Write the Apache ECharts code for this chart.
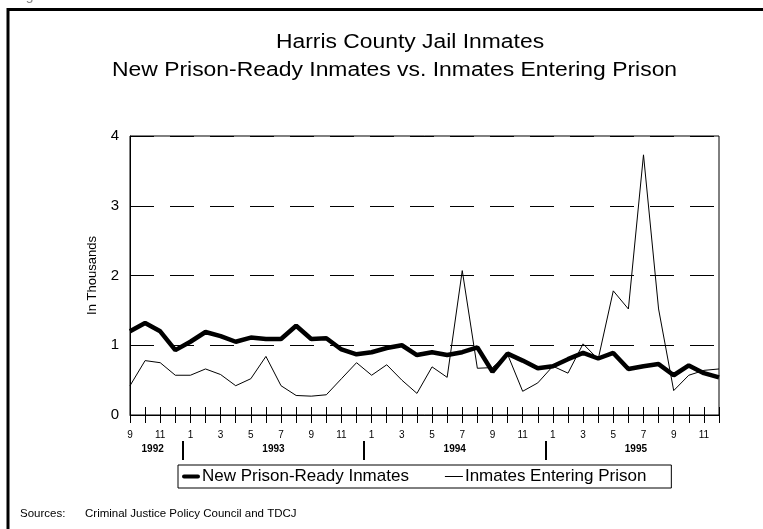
<!DOCTYPE html>
<html>
<head>
<meta charset="utf-8">
<script src="https://cdn.jsdelivr.net/npm/echarts@6/dist/echarts.min.js"></script>
<style>
html,body{margin:0;padding:0;background:#fff;}
#chart{width:763px;height:529px;}
</style>
</head>
<body>
<div id="chart"></div>
<script>
var monthLabels = ['9','10','11','12',
  '1','2','3','4','5','6','7','8','9','10','11','12',
  '1','2','3','4','5','6','7','8','9','10','11','12',
  '1','2','3','4','5','6','7','8','9','10','11','12'];
var monthYears = [1992,1992,1992,1992,
  1993,1993,1993,1993,1993,1993,1993,1993,1993,1993,1993,1993,
  1994,1994,1994,1994,1994,1994,1994,1994,1994,1994,1994,1994,
  1995,1995,1995,1995,1995,1995,1995,1995,1995,1995,1995,1995];
var yearLabels = ['1992','1993','1994','1995'];
var newPrisonReady = [1.20,1.32,1.20,0.93,
  1.05,1.19,1.13,1.05,1.11,1.09,1.09,1.28,1.09,1.10,0.94,0.87,
  0.90,0.96,1.00,0.86,0.90,0.86,0.90,0.97,0.62,0.88,0.78,0.67,
  0.70,0.80,0.89,0.81,0.89,0.66,0.70,0.73,0.57,0.71,0.60,0.54];
var enteringPrison = [0.42,0.78,0.75,0.57,
  0.57,0.66,0.58,0.42,0.52,0.84,0.42,0.28,0.27,0.29,0.52,0.75,
  0.57,0.72,0.50,0.31,0.69,0.54,2.07,0.67,0.68,0.87,0.34,0.46,
  0.70,0.60,1.02,0.80,1.78,1.52,3.73,1.52,0.35,0.57,0.64,0.66];
var yTicks = ['0','1','2','3','4'];
var titleLines = ['Harris County Jail Inmates', 'New Prison-Ready Inmates vs. Inmates Entering Prison'];
var seriesNames = ['New Prison-Ready Inmates', 'Inmates Entering Prison'];

// derived: year boundaries and year label centres (index units)
var categories = monthLabels.map(function(m, i){ return monthYears[i] + '-' + m; });
var sepValues = [];
for (var i = 1; i < monthYears.length; i++) {
  if (monthYears[i] !== monthYears[i-1]) sepValues.push(i - 0.5);
}
var yearCentres = yearLabels.map(function(y){
  var first = monthYears.indexOf(+y), last = monthYears.lastIndexOf(+y);
  return (first + last) / 2;
});

var FONT = '"Liberation Sans", Arial, Helvetica, sans-serif';
var chart = echarts.init(document.getElementById('chart'), null, {renderer:'canvas'});
chart.setOption({
  backgroundColor: '#fff',
  animation: false,
  textStyle: {fontFamily: FONT, color: '#000'},
  grid: {left: 130, right: 44, top: 136, bottom: 114, show: true,
         borderColor: '#000', borderWidth: 1, backgroundColor: 'transparent'},
  legend: {
    left: 178, top: 465,
    padding: [3, 25, 3, 4],
    borderColor: '#000', borderWidth: 1,
    itemWidth: 18, itemHeight: 14, itemGap: 36,
    textStyle: {fontFamily: FONT, fontSize: 17, color: '#000', padding: [0,0,0,-3]},
    data: [
      {name: seriesNames[0], icon: 'path://M2,0 L16,0 A2,2 0 0 1 16,4 L2,4 A2,2 0 0 1 2,0 Z'},
      {name: seriesNames[1], icon: 'path://M0,0 L18,0 L18,1 L0,1 Z'}
    ]
  },
  xAxis: [
    {type: 'category', data: categories, boundaryGap: false, position: 'bottom',
     axisLine: {show: true, lineStyle: {color: '#000', width: 1}},
     axisTick: {show: true, interval: 0, length: 8, lineStyle: {color: '#000'}},
     axisLabel: {show: true, interval: 1, margin: 15, fontSize: 10, color: '#000', fontFamily: FONT,
       formatter: function(v, idx){ return monthLabels[idx]; }},
     splitLine: {show: false}},
    {type: 'category', data: categories, boundaryGap: false, position: 'bottom',
     axisLine: {show: false},
     axisTick: {show: true, inside: true, interval: 0, length: 8, lineStyle: {color: '#000'}},
     axisLabel: {show: false}, splitLine: {show: false}},
    {type: 'value', min: 0, max: monthLabels.length - 1, position: 'bottom', offset: 26,
     axisLine: {show: false},
     axisTick: {show: true, length: 19, customValues: sepValues, lineStyle: {color: '#000', width: 2}},
     axisLabel: {show: true, margin: 3, customValues: yearCentres, fontSize: 10, fontWeight: 'bold',
       color: '#000', fontFamily: FONT, verticalAlign: 'top',
       formatter: function(v){
         var k = yearCentres.indexOf(v);
         return k >= 0 ? yearLabels[k] : '';
       }},
     splitLine: {show: false}}
  ],
  yAxis: {
    type: 'value', min: 0, max: yTicks.length - 1, interval: 1,
    name: 'In Thousands', nameLocation: 'middle', nameRotate: 90, nameGap: 31,
    nameTextStyle: {fontFamily: FONT, fontSize: 13, color: '#000'},
    axisLine: {show: true, lineStyle: {color: '#000', width: 1}},
    axisTick: {show: false},
    axisLabel: {fontSize: 15, color: '#000', margin: 11, fontFamily: FONT,
      formatter: function(v){ return yTicks[v]; }},
    splitLine: {show: true, lineStyle: {color: '#000', width: 1, type: [24, 16]}}
  },
  series: [
    {name: seriesNames[0], type: 'line', data: newPrisonReady,
     symbol: 'none', showSymbol: false, z: 3,
     lineStyle: {color: '#000', width: 4.5}, itemStyle: {color: '#000'}},
    {name: seriesNames[1], type: 'line', data: enteringPrison,
     symbol: 'none', showSymbol: false, z: 2,
     lineStyle: {color: '#000', width: 1}, itemStyle: {color: '#000'}}
  ],
  graphic: [
    {type: 'text', x: 14, y: 3,
     style: {text: 'Figure', font: '14px ' + FONT, fill: '#888', verticalAlign: 'bottom'}},
    {type: 'rect', shape: {x: 8, y: 9.5, width: 900, height: 700},
     style: {fill: 'none', stroke: '#000', lineWidth: 3}, silent: true},
    {type: 'text', x: 276, y: 42, scaleX: 1.143,
     style: {text: titleLines[0], font: '20px ' + FONT, fill: '#000', verticalAlign: 'middle'}},
    {type: 'text', x: 112, y: 70, scaleX: 1.145,
     style: {text: titleLines[1], font: '20px ' + FONT, fill: '#000', verticalAlign: 'middle'}},
    {type: 'text', left: 20, top: 507.5,
     style: {text: 'Sources:', font: '11.5px ' + FONT, fill: '#000'}},
    {type: 'text', left: 85, top: 507.5,
     style: {text: 'Criminal Justice Policy Council and TDCJ', font: '11.5px ' + FONT, fill: '#000'}}
  ]
});
</script>
</body>
</html>
